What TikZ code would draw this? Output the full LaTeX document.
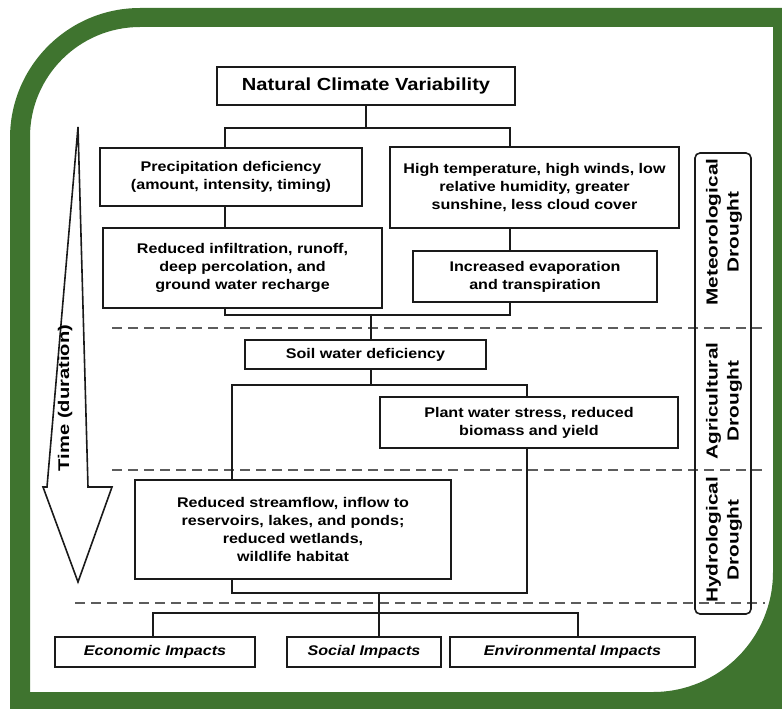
\documentclass[tikz,border=0pt]{standalone}
\usepackage{fontspec}
\setmainfont{Liberation Sans}[FakeStretch=1.15]
\newfontfamily\sidefont{Liberation Sans}[FakeStretch=1.3]
\usetikzlibrary{
  positioning,
  calc,
}
\definecolor{frameGreen}{HTML}{3F742F}
\definecolor{border}{HTML}{1A1A1A}
\definecolor{dashGray}{HTML}{5C5C5C}
\tikzset{
  stepbox/.style={
    rectangle, draw=border, fill=white, line width=2pt, align=center,
    inner sep=0pt, font=\fontsize{14}{18}\selectfont\bfseries,
  },
  titlebox/.style={
    stepbox, font=\fontsize{17.5}{21}\selectfont\bfseries,
  },
  impactbox/.style={
    stepbox, font=\fontsize{14}{18}\selectfont\bfseries\itshape,
  },
  link/.style={draw=border, line width=2pt},
  stage/.style={draw=dashGray, line width=1.4pt, dash pattern=on 10pt off 6pt},
  sidelabel/.style={rotate=90, align=center, font=\sidefont\fontsize{16}{21}\selectfont\bfseries},
}

\begin{document}
\begin{tikzpicture}[x=1pt, y=-1pt]
  \useasboundingbox (0,0) rectangle (782,709);

  % Frame
  \fill[frameGreen, even odd rule]
    (10,138) arc[start angle=180, end angle=270, radius=130] -- (800,8) -- (800,720) -- (10,720) -- cycle
    (30,137) arc[start angle=180, end angle=270, radius=110] -- (773,27) -- (773,572)
      arc[start angle=0, end angle=90, radius=120] -- (30,692) -- cycle;

  % Stage separators
  \draw[stage] (112,328) -- (765,328);
  \draw[stage] (112,470) -- (765,470);
  \draw[stage] (75,603) -- (765,603);

  % Time arrow
  \draw[border, line width=1.6pt, line join=miter]
    (78,127) -- (88,487) -- (112,487) -- (78,582) -- (43,487) -- (47,487) -- cycle;
  \node[sidelabel, font=\sidefont\fontsize{15.5}{20}\selectfont\bfseries] (time) at (65,398) {Time (duration)};

  % Drought types
  \node[draw=border, line width=1.6pt, rounded corners=5pt, minimum width=56, minimum height=461] (types) at (723,383.5) {};
  \node[sidelabel] (meteo) at (724,232) {Meteorological\\Drought};
  \node[sidelabel] (agri) at (724,401) {Agricultural\\Drought};
  \node[sidelabel] (hydro) at (724,540) {Hydrological\\Drought};

  % Meteorological
  \node[titlebox, minimum width=298, minimum height=38] (ncv) at (366,86) {Natural Climate Variability};
  \node[stepbox, minimum width=262, minimum height=58] (prec) at (231,177) {Precipitation deficiency\\(amount, intensity, timing)};
  \node[stepbox, minimum width=289, minimum height=81] (heat) at (534.5,187.5) {High temperature, high winds, low\\relative humidity, greater\\sunshine, less cloud cover};
  \node[stepbox, minimum width=279, minimum height=80] (infil) at (242.5,268) {Reduced infiltration, runoff,\\deep percolation, and\\ground water recharge};
  \node[stepbox, minimum width=244, minimum height=51] (evap) at (535,276.5) {Increased evaporation\\and transpiration};

  \coordinate (forkTop) at (366,128);
  \coordinate (forkL) at (225,128);
  \coordinate (forkR) at (510,128);
  \draw[link] (ncv.south) -- (forkTop);
  \draw[link] (forkL |- prec.north) -- (forkL) -- (forkR) -- (forkR |- heat.north);
  \draw[link] (forkL |- prec.south) -- (forkL |- infil.north);
  \draw[link] (forkR |- heat.south) -- (forkR |- evap.north);

  % Agricultural
  \node[stepbox, minimum width=241, minimum height=29] (soil) at (365.5,354.5) {Soil water deficiency};
  \node[stepbox, minimum width=298, minimum height=51] (plant) at (529,422.5) {Plant water stress, reduced\\biomass and yield};

  \coordinate (joinMid) at (371,315);
  \draw[link] (forkL |- infil.south) -- (forkL |- joinMid) -- (forkR |- joinMid) -- (forkR |- evap.south);
  \draw[link] (joinMid) -- (joinMid |- soil.north);

  % Hydrological
  \node[stepbox, minimum width=316, minimum height=99] (stream) at (293,529.5) {Reduced streamflow, inflow to\\reservoirs, lakes, and ponds;\\reduced wetlands,\\wildlife habitat};

  \coordinate (forkS) at (371,385);
  \coordinate (forkSL) at (232,385);
  \coordinate (forkSR) at (527,385);
  \draw[link] (forkS |- soil.south) -- (forkS);
  \draw[link] (forkSL |- stream.north) -- (forkSL) -- (forkSR) -- (forkSR |- plant.north);

  % Impacts
  \node[impactbox, minimum width=200, minimum height=30] (econ) at (155,652) {Economic Impacts};
  \node[impactbox, minimum width=154, minimum height=30] (social) at (364,652) {Social Impacts};
  \node[impactbox, minimum width=245, minimum height=30] (env) at (572.5,652) {Environmental Impacts};

  \coordinate (joinLow) at (379,593);
  \coordinate (forkIL) at (153,613);
  \coordinate (forkIR) at (578,613);
  \draw[link] (forkSL |- stream.south) -- (forkSL |- joinLow) -- (forkSR |- joinLow) -- (forkSR |- plant.south);
  \draw[link] (joinLow) -- (joinLow |- social.north);
  \draw[link] (forkIL |- econ.north) -- (forkIL) -- (forkIR) -- (forkIR |- env.north);

\end{tikzpicture}
\end{document}
